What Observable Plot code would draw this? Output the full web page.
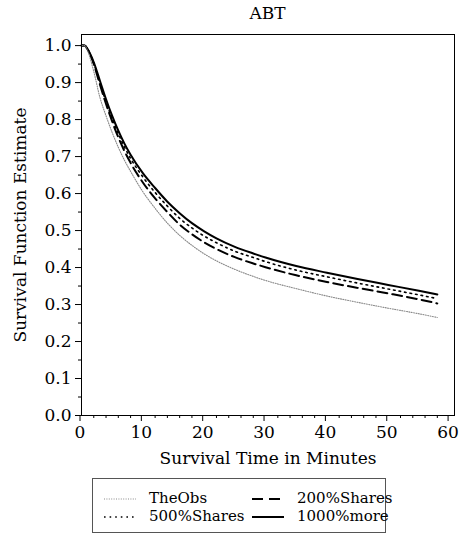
<!DOCTYPE html>
<html>
<head>
<meta charset="utf-8">
<script src="https://cdn.jsdelivr.net/npm/d3@7"></script>
<script src="https://cdn.jsdelivr.net/npm/@observablehq/plot@0.6"></script>
<style>
  body { margin: 0; background: #fff; font-family: "DejaVu Serif", serif; }
  #wrap { position: relative; width: 460px; height: 536px; overflow: hidden; }
  #title { position: absolute; left: 81px; width: 373px; top: 3px; text-align: center; font-size: 17px; }
  #chart { position: absolute; left: 0; top: 0; }
  #legend { position: absolute; left: 92px; top: 478px; width: 292px; height: 53px; border: 1px solid #555; box-sizing: content-box; }
  .item { position: absolute; font-size: 15px; line-height: 17px; }
</style>
</head>
<body>
<div id="wrap">
  <div id="chart"></div>
  <div id="title">ABT</div>
  <div id="legend"></div>
</div>
<script>
const times      = [0, 0.5, 1, 2, 3, 4, 5, 6, 7, 8, 10, 12, 14, 16, 18, 20, 22, 25, 28, 30, 35, 40, 45, 50, 55, 58];
const theObs     = [1, 1, 0.985, 0.93, 0.86, 0.81, 0.765, 0.725, 0.69, 0.66, 0.605, 0.56, 0.52, 0.487, 0.46, 0.437, 0.418, 0.395, 0.376, 0.365, 0.343, 0.323, 0.306, 0.29, 0.275, 0.265];
const shares200  = [1, 1, 0.99, 0.95, 0.895, 0.842, 0.795, 0.752, 0.715, 0.683, 0.63, 0.587, 0.55, 0.516, 0.49, 0.468, 0.45, 0.428, 0.411, 0.401, 0.379, 0.361, 0.345, 0.33, 0.314, 0.303];
const shares500  = [1, 1, 0.99, 0.952, 0.9, 0.848, 0.802, 0.762, 0.726, 0.695, 0.645, 0.603, 0.566, 0.533, 0.507, 0.485, 0.467, 0.444, 0.427, 0.416, 0.393, 0.375, 0.358, 0.342, 0.326, 0.316];
const more1000   = [1, 1, 0.99, 0.955, 0.905, 0.855, 0.81, 0.77, 0.735, 0.705, 0.655, 0.615, 0.578, 0.547, 0.52, 0.498, 0.479, 0.456, 0.438, 0.427, 0.404, 0.386, 0.369, 0.353, 0.337, 0.327];
const seriesNames = ["TheObs", "500%Shares", "200%Shares", "1000%more"];
const xMajor = [0, 10, 20, 30, 40, 50, 60];
const yMajor = [0, 0.1, 0.2, 0.3, 0.4, 0.5, 0.6, 0.7, 0.8, 0.9, 1.0];
const xMinor = [2, 4, 6, 8, 12, 14, 16, 18, 22, 24, 26, 28, 32, 34, 36, 38, 42, 44, 46, 48, 52, 54, 56, 58];
const yMinor = [0.05, 0.15, 0.25, 0.35, 0.45, 0.55, 0.65, 0.75, 0.85, 0.95];

const styles = {
  "TheObs":     {stroke: "#8a8a8a", strokeWidth: 1.1, dash: "1,1.4"},
  "500%Shares": {stroke: "#000", strokeWidth: 1.6, dash: "1.6,4"},
  "200%Shares": {stroke: "#000", strokeWidth: 2, dash: "10,5"},
  "1000%more":  {stroke: "#000", strokeWidth: 2, dash: null}
};
const valuesBy = {"TheObs": theObs, "500%Shares": shares500, "200%Shares": shares200, "1000%more": more1000};
const table = seriesNames.flatMap(s => times.map((t, i) => ({series: s, t, v: valuesBy[s][i]})));

const lines = ["1000%more", "500%Shares", "200%Shares", "TheObs"].map(s =>
  Plot.line(table.filter(d => d.series === s), {
    x: "t", y: "v", curve: "monotone-x",
    stroke: styles[s].stroke, strokeWidth: styles[s].strokeWidth,
    strokeDasharray: styles[s].dash
  })
);

const chart = Plot.plot({
  width: 460, height: 470,
  marginTop: 34, marginBottom: 55, marginLeft: 81, marginRight: 6,
  style: {fontFamily: "DejaVu Serif", fontSize: "17px", color: "#000", background: "#fff"},
  x: {domain: [0, 60.8]},
  y: {domain: [0, 1.03]},
  marks: [
    Plot.axisX({ticks: xMinor, tickSize: 3, text: null, label: null}),
    Plot.axisX({ticks: xMajor, tickSize: 6, tickPadding: 4, tickFormat: d => String(d), dx: -1.5,
      label: "Survival Time in Minutes", labelAnchor: "center", labelArrow: "none", labelOffset: 48}),
    Plot.axisY({ticks: yMinor, tickSize: 3, text: null, label: null}),
    Plot.axisY({ticks: yMajor, tickSize: 6, tickPadding: 4, tickFormat: d3.format(".1f"),
      label: "Survival Function Estimate", labelAnchor: "center", labelArrow: "none", labelOffset: 68}),
    ...lines,
    Plot.frame({stroke: "#000", strokeWidth: 1})
  ]
});
document.getElementById("chart").appendChild(chart);

// legend
const legend = document.getElementById("legend");
const pos = [
  {s: "TheObs", x: 10, y: 11},
  {s: "500%Shares", x: 10, y: 29},
  {s: "200%Shares", x: 158, y: 11},
  {s: "1000%more", x: 158, y: 29}
];
for (const p of pos) {
  const st = styles[p.s];
  const sw = document.createElementNS("http://www.w3.org/2000/svg", "svg");
  sw.setAttribute("width", 34); sw.setAttribute("height", 17);
  sw.style.position = "absolute"; sw.style.left = p.x + "px"; sw.style.top = p.y + "px";
  const ln = document.createElementNS("http://www.w3.org/2000/svg", "line");
  ln.setAttribute("x1", 1); ln.setAttribute("x2", 33); ln.setAttribute("y1", 9); ln.setAttribute("y2", 9);
  ln.setAttribute("stroke", st.stroke); ln.setAttribute("stroke-width", st.strokeWidth);
  if (st.dash) ln.setAttribute("stroke-dasharray", p.s === "200%Shares" ? "11,6" : st.dash);
  sw.appendChild(ln);
  legend.appendChild(sw);
  const tx = document.createElement("div");
  tx.className = "item"; tx.textContent = p.s;
  tx.style.left = (p.x + 46) + "px"; tx.style.top = p.y + "px";
  legend.appendChild(tx);
}
</script>
</body>
</html>
